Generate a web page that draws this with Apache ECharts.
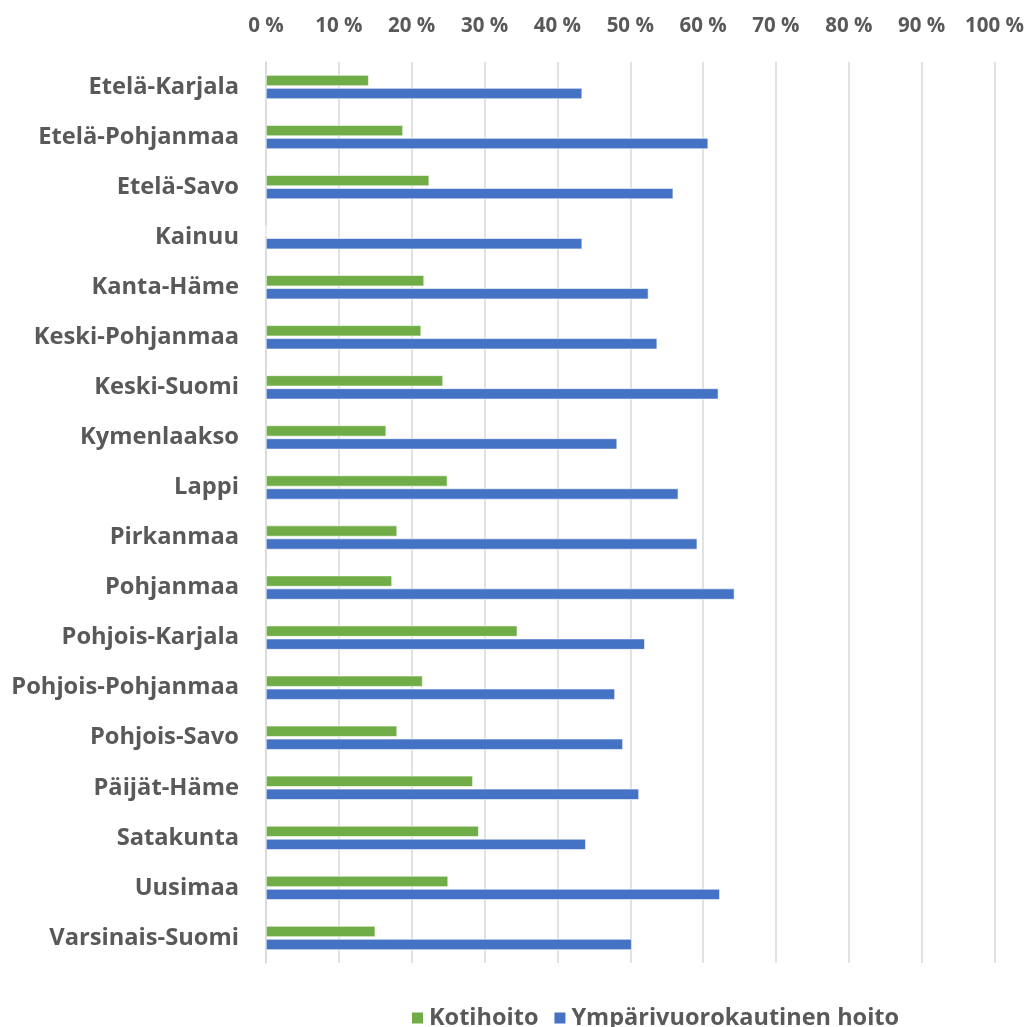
<!DOCTYPE html>
<html>
<head>
<meta charset="utf-8">
<script src="https://cdn.jsdelivr.net/npm/echarts@6/dist/echarts.min.js"></script>
<style>
html,body{margin:0;padding:0;background:#fff;}
#chart{width:1029px;height:1027px;}
</style>
</head>
<body>
<div id="chart"></div>
<script>
const categories = ["Etelä-Karjala","Etelä-Pohjanmaa","Etelä-Savo","Kainuu","Kanta-Häme","Keski-Pohjanmaa","Keski-Suomi","Kymenlaakso","Lappi","Pirkanmaa","Pohjanmaa","Pohjois-Karjala","Pohjois-Pohjanmaa","Pohjois-Savo","Päijät-Häme","Satakunta","Uusimaa","Varsinais-Suomi"];
const kotihoito = [14.1,18.8,22.4,0,21.7,21.3,24.3,16.5,24.9,18.0,17.3,34.5,21.5,18.0,28.4,29.2,25.0,15.0];
const ymparivuorokautinen = [43.4,60.7,55.9,43.4,52.5,53.7,62.1,48.2,56.6,59.2,64.3,52.0,47.9,49.0,51.2,43.9,62.3,50.2];
const seriesNames = ["Kotihoito","Ympärivuorokautinen hoito"];
const tickMin = 0, tickMax = 100, tickStep = 10;

const FONT = 'Open Sans';
const chart = echarts.init(document.getElementById('chart'), null, {renderer:'canvas'});
chart.setOption({
  animation:false,
  backgroundColor:'#ffffff',
  grid:{left:266, right:34.5, top:62, height:901, containLabel:false},
  legend:{
    top:1001, left:405,
    itemWidth:13, itemHeight:13, itemGap:14,
    icon:'rect',
    textStyle:{fontFamily:FONT, fontWeight:'bold', fontSize:23.5, color:'#595959'},
    data:seriesNames
  },
  xAxis:{
    type:'value', position:'top', min:tickMin, max:tickMax, interval:tickStep,
    axisLine:{show:false}, axisTick:{show:false},
    axisLabel:{formatter:'{value} %', fontFamily:FONT, fontWeight:'bold', fontSize:20.5, color:'#595959', margin:25},
    splitLine:{lineStyle:{color:'#d9d9d9', width:1.5}}
  },
  yAxis:{
    type:'category', inverse:true, data:categories,
    axisLine:{lineStyle:{color:'#d9d9d9', width:1.5}},
    axisTick:{show:false},
    axisLabel:{fontFamily:FONT, fontWeight:'bold', fontSize:23.7, color:'#595959', margin:27}
  },
  series:[
    {name:seriesNames[0], type:'bar', data:kotihoito, barWidth:11, barGap:'18%',
     itemStyle:{color:'#70AD47', borderColor:'#ffffff', borderWidth:0.6}},
    {name:seriesNames[1], type:'bar', data:ymparivuorokautinen, barWidth:11, barGap:'18%',
     itemStyle:{color:'#4472C4', borderColor:'#ffffff', borderWidth:0.6}}
  ]
});
</script>
</body>
</html>
